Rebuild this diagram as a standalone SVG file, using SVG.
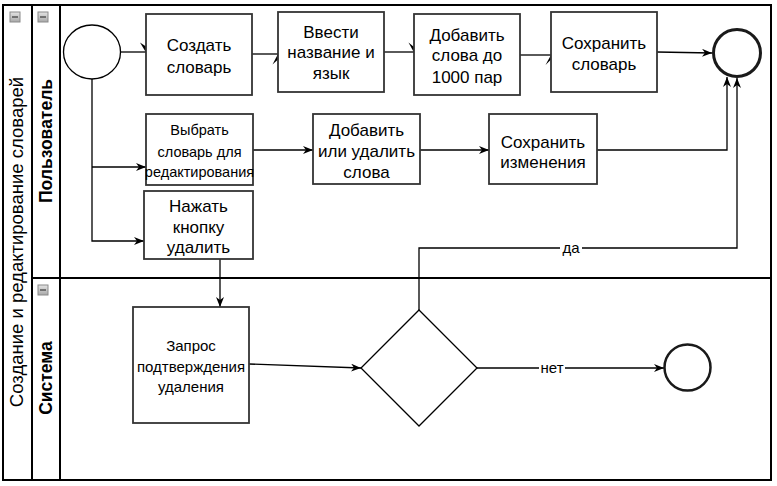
<svg xmlns="http://www.w3.org/2000/svg" width="777" height="486" viewBox="0 0 777 486">
<defs>
<marker id="arr" markerUnits="userSpaceOnUse" markerWidth="11" markerHeight="8" refX="10" refY="4" orient="auto">
<path d="M0,0 L10,4 L0,8 L3,4 z" fill="#000"/>
</marker>
<linearGradient id="ig" x1="0" y1="0" x2="0" y2="1">
<stop offset="0" stop-color="#e4e4e4"/>
<stop offset="1" stop-color="#a8a8a8"/>
</linearGradient>
<g id="minus">
<rect x="0" y="0" width="10" height="10" fill="url(#ig)" stroke="#8a8a8a" stroke-width="1"/>
<line x1="2" y1="5" x2="8" y2="5" stroke="#555" stroke-width="1.5"/>
</g>
</defs>
<style>
.frame{fill:none;stroke:#000;stroke-width:2}
.box{fill:#fff;stroke:#333;stroke-width:1.8}
.ev{fill:#fff;stroke:#000;stroke-width:1.3}
.evend{fill:#fff;stroke:#1a1a1a;stroke-width:3}
.gw{fill:#fff;stroke:#000;stroke-width:1.3}
.t{font-family:"Liberation Sans",Arial,sans-serif;font-size:17px;fill:#000;text-anchor:middle}
.s{font-size:14.5px}
.m{font-size:15px}
.lane{font-family:"Liberation Sans",Arial,sans-serif;font-size:17.5px;font-weight:bold;fill:#000;text-anchor:middle}
.pool{font-family:"Liberation Sans",Arial,sans-serif;font-size:18.5px;fill:#000;text-anchor:middle}
.c{fill:none;stroke:#000;stroke-width:1.3}
.lbl{font-family:"Liberation Sans",Arial,sans-serif;font-size:15px;fill:#000;text-anchor:middle}
</style>
<rect width="777" height="486" fill="#fff"/>
<g id="pool">
<rect class="frame" x="3" y="5" width="768" height="475"/>
<line class="frame" x1="32" y1="5" x2="32" y2="480"/>
<line class="frame" x1="60" y1="5" x2="60" y2="480"/>
<line class="frame" x1="32" y1="278" x2="771" y2="278"/>
<use href="#minus" x="10" y="12"/>
<use href="#minus" x="38" y="12"/>
<use href="#minus" x="38" y="285"/>
<text class="pool" transform="translate(23,242) rotate(-90)">Создание и редактирование словарей</text>
<text class="lane" transform="translate(52,141) rotate(-90)">Пользователь</text>
<text class="lane" transform="translate(52,378) rotate(-90)">Система</text>
</g>
<g id="connectors">
<path class="c" d="M120.5,52 H146"/>
<polygon points="140,42.5 146,46.5 146,52.5" fill="#000"/>
<path class="c" d="M252,54 H278"/>
<polygon points="272.5,64.5 278,59.5 278,54" fill="#000"/>
<path class="c" d="M384,52 H414"/>
<polygon points="408.5,42.5 414,47 414,52.5" fill="#000"/>
<path class="c" d="M520,55 H551"/>
<polygon points="545.5,65 551,59.5 551,55" fill="#000"/>
<path class="c" d="M657,52 L712,53" marker-end="url(#arr)"/>
<path class="c" d="M92,79 V241 H144" marker-end="url(#arr)"/>
<path class="c" d="M92,167 H146" marker-end="url(#arr)"/>
<path class="c" d="M253,150 H313" marker-end="url(#arr)"/>
<path class="c" d="M420,150 H489" marker-end="url(#arr)"/>
<path class="c" d="M597,150 H727 V77" marker-end="url(#arr)"/>
<path class="c" d="M220,259 V307" marker-end="url(#arr)"/>
<path class="c" d="M249,364 L361,368" marker-end="url(#arr)"/>
<path class="c" d="M477,368 H664" marker-end="url(#arr)"/>
<path class="c" d="M419,310 V248 H737 V78" marker-end="url(#arr)"/>
<rect x="539" y="360" width="26" height="16" fill="#fff"/>
<text class="lbl" x="552" y="373">нет</text>
<rect x="560" y="240" width="22" height="16" fill="#fff"/>
<text class="lbl" x="571" y="253">да</text>
</g>
<g id="start">
<ellipse class="ev" cx="92" cy="52" rx="28.5" ry="27"/>
</g>
<g id="create">
<rect class="box" x="146" y="14" width="106" height="81"/>
<text class="t" x="199" y="51">Создать</text>
<text class="t" x="199" y="72.7">словарь</text>
</g>
<g id="name">
<rect class="box" x="278" y="12" width="106" height="80"/>
<text class="t" x="331" y="37.7">Ввести</text>
<text class="t" x="331" y="57.7">название и</text>
<text class="t" x="331" y="79.3">язык</text>
</g>
<g id="addwords">
<rect class="box" x="414" y="14" width="106" height="81"/>
<text class="t" x="467" y="41">Добавить</text>
<text class="t" x="467" y="61">слова до</text>
<text class="t" x="467" y="82.7">1000 пар</text>
</g>
<g id="save">
<rect class="box" x="551" y="12" width="106" height="80"/>
<text class="t" x="604" y="49.3">Сохранить</text>
<text class="t" x="604" y="70">словарь</text>
</g>
<g id="end-top">
<circle class="evend" cx="737" cy="53" r="23.5"/>
</g>
<g id="select">
<rect class="box" x="146" y="114" width="107" height="71"/>
<text class="t s" x="199.5" y="135">Выбрать</text>
<text class="t s" x="199.5" y="156.7">словарь для</text>
<text class="t s" x="199.5" y="177.3">редактирования</text>
</g>
<g id="edit">
<rect class="box" x="313" y="114" width="107" height="70"/>
<text class="t" x="366.5" y="136">Добавить</text>
<text class="t" x="366.5" y="156.7">или удалить</text>
<text class="t" x="366.5" y="177.7">слова</text>
</g>
<g id="savechanges">
<rect class="box" x="489" y="114" width="108" height="70"/>
<text class="t" x="543" y="147.7">Сохранить</text>
<text class="t" x="543" y="167.7">изменения</text>
</g>
<g id="delete">
<rect class="box" x="144" y="191" width="109" height="68"/>
<text class="t" x="198.5" y="212">Нажать</text>
<text class="t" x="198.5" y="232.7">кнопку</text>
<text class="t" x="198.5" y="252.7">удалить</text>
</g>
<g id="confirm">
<rect class="box" x="133" y="307" width="116" height="116"/>
<text class="t m" x="191" y="351">Запрос</text>
<text class="t m" x="191" y="372">подтверждения</text>
<text class="t m" x="191" y="392">удаления</text>
</g>
<g id="gateway">
<polygon class="gw" points="419,310 477,368 419,426 361,368"/>
</g>
<g id="end-bottom">
<circle class="evend" cx="687.5" cy="367.5" r="23" style="stroke-width:2.5"/>
</g>
</svg>
